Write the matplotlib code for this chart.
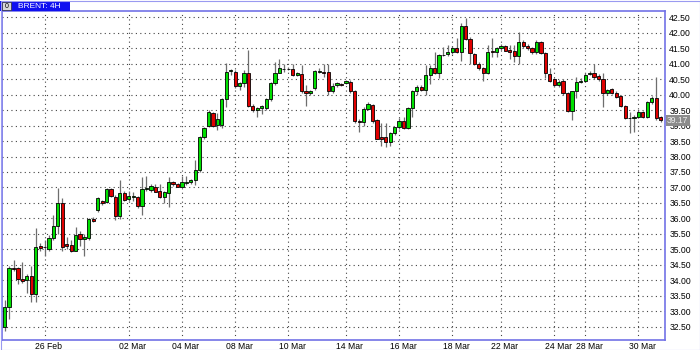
import matplotlib
matplotlib.use("Agg")
import matplotlib.pyplot as plt
import matplotlib.transforms as mtransforms
from matplotlib.patches import Rectangle
import numpy as np

# 4H BRENT candles (open, high, low, close)
opens = [32.50, 33.14, 34.40, 34.40, 34.05, 34.00, 34.15, 33.55, 35.10, 35.07,
         35.00, 35.36, 35.74, 36.49, 35.17, 35.15, 34.95, 35.50, 35.34, 35.36,
         35.98, 36.27, 36.57, 36.54, 36.94, 36.70, 36.08, 36.83, 36.62, 36.70,
         36.68, 36.40, 36.95, 36.92, 37.01, 36.90, 36.70, 36.83, 37.19, 37.10,
         37.03, 37.15, 37.17, 37.24, 37.56, 38.62, 39.00, 39.42, 39.02, 39.02,
         39.85, 40.76, 40.74, 40.29, 40.39, 40.69, 39.63, 39.50, 39.56, 39.56,
         39.85, 40.39, 40.71, 40.82, 40.84, 40.82, 40.64, 40.67, 40.10, 40.04,
         40.21, 40.73, 40.72, 40.72, 40.10, 40.31, 40.34, 40.37, 40.42, 40.13,
         39.15, 39.10, 39.54, 39.67, 39.18, 38.62, 38.62, 38.48, 38.75, 38.94,
         39.15, 38.91, 39.56, 40.10, 40.26, 40.15, 40.64, 40.87, 40.69, 41.28,
         41.30, 41.39, 41.50, 41.38, 42.20, 41.80, 41.30, 40.99, 40.85, 40.70,
         41.42, 41.39, 41.50, 41.56, 41.44, 41.40, 41.25, 41.71, 41.58, 41.50,
         41.39, 41.71, 41.34, 40.67, 40.50, 40.31, 40.45, 40.04, 39.48, 40.10,
         40.42, 40.45, 40.67, 40.71, 40.60, 40.50, 40.06, 40.17, 40.06, 39.95,
         39.63, 39.26, 39.25, 39.29, 39.45, 39.29, 39.75, 39.88, 39.29]
highs = [33.35, 34.45, 34.65, 34.42, 34.60, 34.20, 34.45, 35.70, 35.20, 35.30,
         35.45, 36.10, 36.98, 36.66, 35.40, 35.30, 35.72, 35.60, 35.50, 36.00,
         36.05, 36.70, 36.60, 36.97, 36.98, 36.75, 37.24, 36.90, 36.90, 36.85,
         36.72, 37.35, 37.37, 37.10, 37.10, 37.10, 36.90, 37.35, 37.22, 37.15,
         37.37, 37.37, 37.26, 37.89, 38.65, 38.95, 39.50, 39.45, 39.40, 39.88,
         41.01, 40.82, 40.80, 40.42, 40.80, 41.44, 39.70, 39.61, 39.65, 39.90,
         40.42, 41.06, 41.14, 40.99, 40.90, 40.99, 40.72, 40.96, 40.31, 40.15,
         40.80, 40.85, 40.99, 40.99, 40.37, 40.42, 40.37, 40.48, 40.48, 40.15,
         39.20, 39.61, 39.75, 39.70, 39.20, 39.08, 39.08, 38.80, 38.96, 39.23,
         39.29, 39.61, 40.15, 40.30, 40.30, 40.96, 40.96, 41.39, 41.30, 41.55,
         41.60, 41.58, 41.82, 42.30, 42.49, 41.85, 41.35, 41.05, 40.90, 41.59,
         41.82, 41.55, 41.62, 41.60, 41.61, 41.60, 42.03, 41.75, 41.62, 41.55,
         41.75, 41.73, 41.38, 40.85, 40.55, 40.48, 40.50, 40.08, 40.12, 40.58,
         40.53, 40.70, 40.75, 40.99, 40.65, 40.69, 40.18, 40.20, 40.10, 39.98,
         39.66, 39.45, 39.35, 39.50, 39.48, 39.80, 39.95, 40.58, 39.32]
lows = [32.35, 32.75, 34.30, 33.88, 33.90, 33.58, 33.30, 33.30, 34.95, 34.78,
        34.95, 35.30, 35.50, 34.95, 35.00, 34.90, 34.95, 35.10, 34.80, 35.30,
        35.90, 36.20, 36.45, 36.50, 36.70, 35.95, 35.98, 36.55, 36.55, 36.55,
        36.35, 36.10, 36.90, 36.85, 36.85, 36.65, 36.50, 36.38, 37.05, 37.00,
        37.00, 37.08, 37.10, 37.08, 37.50, 38.55, 38.95, 38.95, 38.86, 38.92,
        39.60, 40.64, 40.20, 40.15, 40.26, 39.60, 39.45, 39.29, 39.37, 39.50,
        39.80, 40.31, 40.69, 40.74, 40.78, 40.60, 40.60, 40.04, 39.63, 40.00,
        40.15, 40.69, 40.58, 39.99, 40.04, 40.26, 40.29, 40.33, 40.04, 39.08,
        38.80, 39.00, 39.50, 39.08, 38.55, 38.34, 38.32, 38.34, 38.70, 38.90,
        38.88, 38.88, 39.29, 40.00, 40.10, 39.99, 40.35, 40.65, 40.55, 41.25,
        41.25, 41.30, 41.33, 41.09, 41.75, 41.00, 40.95, 40.80, 40.45, 40.68,
        41.20, 41.20, 41.45, 41.40, 41.16, 41.05, 41.00, 41.50, 41.45, 41.30,
        41.30, 41.30, 40.53, 40.40, 40.25, 40.25, 40.00, 39.45, 39.18, 39.90,
        40.37, 40.40, 40.62, 40.50, 40.45, 39.61, 40.00, 40.02, 39.88, 39.60,
        39.20, 38.75, 38.80, 39.25, 39.25, 39.25, 39.70, 39.18, 39.10]
closes = [33.13, 34.40, 34.38, 34.03, 33.98, 34.15, 33.55, 35.08, 35.05, 35.08,
          35.36, 35.74, 36.49, 35.08, 35.12, 34.95, 35.48, 35.32, 35.40, 35.97,
          35.92, 36.65, 36.50, 36.94, 36.72, 36.08, 36.83, 36.59, 36.72, 36.72,
          36.40, 36.94, 36.97, 37.05, 36.86, 36.70, 36.86, 37.19, 37.10, 37.03,
          37.19, 37.16, 37.24, 37.56, 38.62, 38.91, 39.45, 38.99, 39.20, 39.85,
          40.74, 40.78, 40.29, 40.37, 40.69, 39.63, 39.50, 39.58, 39.63, 39.85,
          40.39, 40.71, 40.85, 40.84, 40.82, 40.64, 40.69, 40.10, 40.04, 40.12,
          40.77, 40.75, 40.69, 40.10, 40.29, 40.37, 40.32, 40.43, 40.13, 39.15,
          39.10, 39.54, 39.70, 39.15, 38.57, 38.57, 38.48, 38.75, 38.94, 39.15,
          38.92, 39.56, 40.10, 40.26, 40.15, 40.64, 40.87, 40.69, 41.28, 41.29,
          41.39, 41.50, 41.37, 42.20, 41.80, 41.34, 40.99, 40.85, 40.70, 41.39,
          41.36, 41.50, 41.58, 41.42, 41.39, 41.25, 41.69, 41.58, 41.50, 41.37,
          41.71, 41.34, 40.69, 40.45, 40.31, 40.42, 40.04, 39.48, 40.10, 40.40,
          40.43, 40.64, 40.71, 40.56, 40.50, 40.06, 40.15, 40.06, 39.93, 39.63,
          39.25, 39.24, 39.29, 39.45, 39.29, 39.75, 39.88, 39.24, 39.17]

date_pos = [9, 28, 40, 52, 64, 77, 89, 101, 112, 124, 131, 143]
date_labels = ['26 Feb', '02 Mar', '04 Mar', '08 Mar', '10 Mar', '14 Mar',
               '16 Mar', '18 Mar', '22 Mar', '24 Mar', '28 Mar', '30 Mar']
price_ticks = np.arange(32.5, 42.51, 0.5)
last_price = 39.17

frame = '#7272e6'
plt.rcParams['font.family'] = ['Liberation Sans', 'DejaVu Sans']

fig = plt.figure(figsize=(7, 3.5), dpi=100)
fig.patch.set_facecolor('white')
ax = fig.add_axes([2/700, 1 - 339.5/350, 663/700, 328.5/350])

o = np.array(opens); h = np.array(highs); l = np.array(lows); c = np.array(closes)
idx = np.arange(len(o))
up = c >= o
ax.vlines(idx, l, h, color='#6e6e6e', linewidth=0.9, zorder=2)
body = np.maximum(np.abs(c - o), 0.015)
ax.bar(idx[up], body[up], bottom=np.minimum(o, c)[up], width=0.72,
       color='#00e000', edgecolor='black', linewidth=0.6, zorder=3)
ax.bar(idx[~up], body[~up], bottom=np.minimum(o, c)[~up], width=0.72,
       color='#e00000', edgecolor='black', linewidth=0.6, zorder=3)

ax.set_xlim(-0.6, 149.0)
ax.set_ylim(32.09, 42.70)

ax.yaxis.tick_right()
ax.set_yticks(price_ticks)
ax.set_yticklabels(['%.2f' % v for v in price_ticks])
ax.set_xticks(date_pos)
ax.set_xticklabels(date_labels)
ax.tick_params(axis='both', length=0, labelsize=6.2, colors='black')
ax.tick_params(axis='y', pad=3)
ax.tick_params(axis='x', pad=1.5)
shift = mtransforms.ScaledTranslation(4/100, 0, fig.dpi_scale_trans)
for lab in ax.get_xticklabels():
    lab.set_transform(lab.get_transform() + shift)

ax.grid(True, color='#444444', linestyle=(0, (1, 3)), linewidth=0.8, zorder=0)
for s in ax.spines.values():
    s.set_color(frame)
    s.set_linewidth(1.2)

# last price marker on the right scale
ax.text(1.003, last_price, '39.17', transform=ax.get_yaxis_transform(),
        ha='left', va='center', fontsize=6.2, color='#eeeeee',
        bbox=dict(boxstyle='square,pad=0.15', facecolor='#8c8c8c', edgecolor='none'),
        zorder=5, clip_on=False)

# header bar
fig.add_artist(Rectangle((0, 1 - 11/350), 70/700, 10/350, transform=fig.transFigure,
                         facecolor='#1010f0', edgecolor='none'))
fig.add_artist(Rectangle((2/700, 1 - 10/350), 9/700, 8/350, transform=fig.transFigure,
                         facecolor='#d8d8d8', edgecolor='#303030', linewidth=0.5))
fig.text(6.5/700, 1 - 6/350, '0', fontsize=5, ha='center', va='center', color='black')
fig.text(18/700, 1 - 6/350, 'BRENT: 4H', fontsize=6, ha='left', va='center',
         color='white')
fig.add_artist(Rectangle((0.5/700, 0.5/350), 699/700, 349/350, transform=fig.transFigure,
                         facecolor='none', edgecolor='#9a9af0', linewidth=0.8))

fig.savefig('out.png', dpi=100)
